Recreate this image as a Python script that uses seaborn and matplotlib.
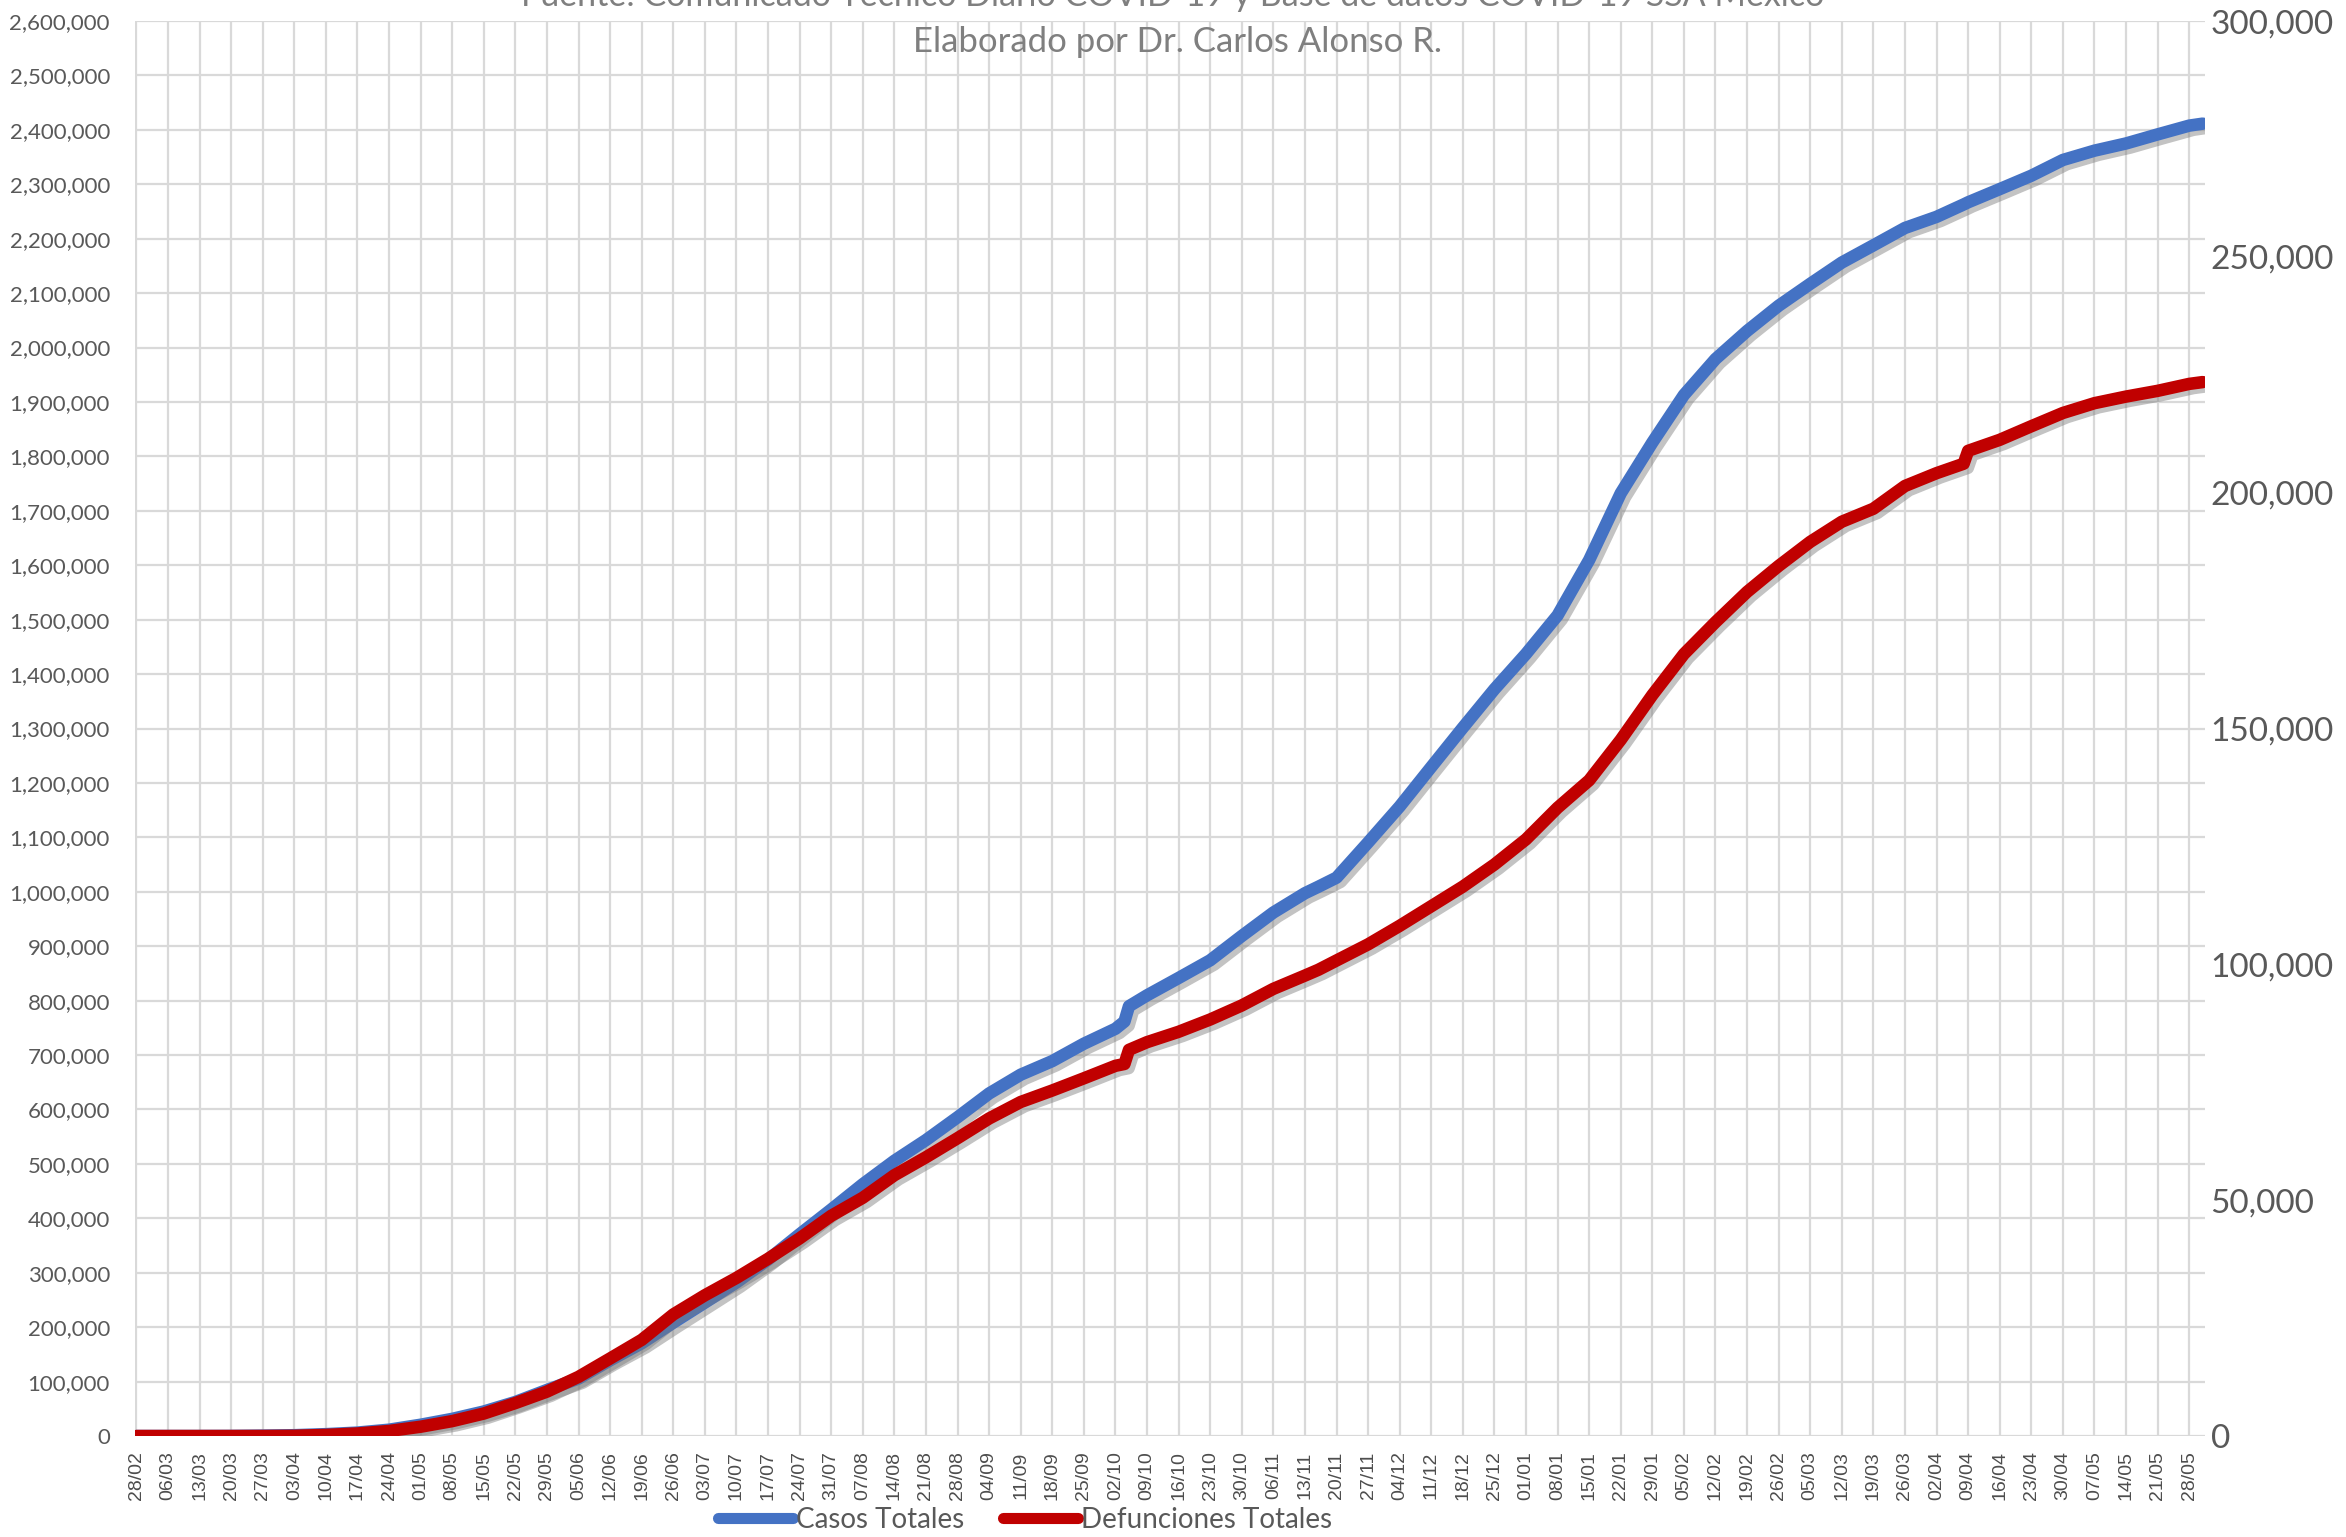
import matplotlib
matplotlib.use('Agg')
import matplotlib.pyplot as plt
import matplotlib.patheffects as pe
from matplotlib.lines import Line2D
from matplotlib.ticker import FuncFormatter, MultipleLocator
import seaborn as sns
import pandas as pd

## datos (acumulados Mexico)
fechas = ['28/02/20', '06/03/20', '13/03/20', '20/03/20', '27/03/20', '03/04/20', '10/04/20',
          '17/04/20', '24/04/20', '01/05/20', '08/05/20', '15/05/20', '22/05/20', '29/05/20',
          '05/06/20', '12/06/20', '19/06/20', '26/06/20', '03/07/20', '10/07/20', '17/07/20',
          '24/07/20', '31/07/20', '07/08/20', '14/08/20', '21/08/20', '28/08/20', '04/09/20',
          '11/09/20', '18/09/20', '25/09/20', '02/10/20', '04/10/20', '05/10/20', '09/10/20',
          '16/10/20', '23/10/20', '30/10/20', '06/11/20', '13/11/20', '16/11/20', '20/11/20',
          '27/11/20', '04/12/20', '11/12/20', '18/12/20', '25/12/20', '01/01/21', '08/01/21',
          '15/01/21', '22/01/21', '29/01/21', '05/02/21', '12/02/21', '19/02/21', '26/02/21',
          '05/03/21', '12/03/21', '19/03/21', '26/03/21', '02/04/21', '08/04/21', '09/04/21',
          '16/04/21', '23/04/21', '30/04/21', '07/05/21', '14/05/21', '21/05/21', '28/05/21',
          '31/05/21']

casos = [1, 6, 26, 164, 717, 1510, 3441, 6297, 11633, 20739, 31522, 45032, 62527, 84627,
         105680, 139196, 170485, 208392, 245251, 282283, 324041, 370712, 416179, 462690,
         505751, 543806, 585738, 629409, 663973, 688954, 720858, 748315, 761665, 789780,
         809751, 841661, 874171, 918811, 961938, 997393, 1009396, 1025969, 1090675, 1156770,
         1229379, 1301546, 1372243, 1437185, 1507931, 1609735, 1732290, 1825519, 1912871,
         1978954, 2030491, 2076882, 2117150, 2156282, 2187910, 2219845, 2240258, 2263000,
         2267010, 2291246, 2315811, 2344755, 2361874, 2375115, 2391744, 2407866, 2411503]

defunciones = [0, 0, 0, 1, 12, 50, 233, 546, 1069, 1972, 3160, 4767, 6989, 9415,
               12545, 16448, 20394, 25779, 29843, 33526, 37574, 41908, 46688, 50517,
               55293, 59106, 63146, 67326, 70821, 73258, 75844, 78492, 78880, 81877,
               83507, 85704, 88312, 91289, 94808, 97624, 98861, 100823, 104242, 108173,
               112326, 116487, 121172, 126507, 133204, 139022, 147614, 157100, 165786,
               172557, 178965, 184474, 189578, 193851, 196606, 201429, 204147, 206146,
               208879, 211213, 214095, 216907, 218985, 220384, 221597, 223072, 223455]

series = ['Casos Totales', 'Defunciones Totales']
titulo = ['Fuente: Comunicado Técnico Diario COVID-19 y Base de datos COVID-19 SSA México',
          'Elaborado por Dr. Carlos Alonso R.']

df = pd.DataFrame({'fecha': pd.to_datetime(fechas, format='%d/%m/%y'),
                   'casos': casos, 'defunciones': defunciones})

sns.set_style('white')
plt.rcParams['font.family'] = ['Lato', 'DejaVu Sans']

AZUL = '#4472C4'
ROJO = '#C00000'
GRIS = '#595959'
REJILLA = '#d9d9d9'

fig = plt.figure(figsize=(23.46, 15.37), dpi=100)
ax = fig.add_axes([0.0575, 0.0657, 0.8824, 0.9206])
ax2 = ax.twinx()

sombra = [pe.SimpleLineShadow(offset=(3, -3), shadow_color='#7a7a7a', alpha=0.45), pe.Normal()]
sns.lineplot(data=df, x='fecha', y='casos', ax=ax, color=AZUL, lw=9,
             solid_capstyle='round', path_effects=sombra, legend=False)
sns.lineplot(data=df, x='fecha', y='defunciones', ax=ax2, color=ROJO, lw=9,
             solid_capstyle='round', path_effects=sombra, legend=False)

# eje x: una marca por semana
semanas = pd.date_range('2020-02-28', '2021-05-28', freq='7D')
ax.set_xlim(pd.Timestamp('2020-02-28') - pd.Timedelta(hours=8),
            pd.Timestamp('2021-05-31') + pd.Timedelta(hours=12))
ax.set_xticks(semanas)
ax.set_xticklabels([d.strftime('%d/%m') for d in semanas], rotation=90,
                   fontsize=14, family=['Liberation Sans', 'DejaVu Sans'])
ax.tick_params(axis='x', length=5, width=1.5, color=REJILLA, labelcolor='#4d4d4d', pad=6)

# eje izquierdo (casos)
ax.set_ylim(0, 2600000)
ax.yaxis.set_major_locator(MultipleLocator(100000))
ax.yaxis.set_major_formatter(FuncFormatter(lambda v, p: f'{v:,.0f}'))
ax.tick_params(axis='y', length=0, labelsize=16, labelcolor=GRIS, pad=18)

# eje derecho (defunciones)
ax2.set_ylim(0, 300000)
ax2.yaxis.set_major_locator(MultipleLocator(50000))
ax2.yaxis.set_major_formatter(FuncFormatter(lambda v, p: f'{v:,.0f}'))
ax2.tick_params(axis='y', length=0, labelsize=24, labelcolor=GRIS, pad=4)

ax.grid(True, color=REJILLA, lw=1.6)
ax2.grid(False)
ax.set_axisbelow(True)
for a in (ax, ax2):
    a.set_xlabel('')
    a.set_ylabel('')
    for s in a.spines.values():
        s.set_visible(False)

fig.text(0.5, 0.996, titulo[0], ha='center', va='baseline', fontsize=24.5, color='#7f7f7f')
fig.text(0.502, 0.966, titulo[1], ha='center', va='baseline', fontsize=25, color='#7f7f7f')

manijas = [Line2D([0], [0], color=AZUL, lw=8, solid_capstyle='round'),
           Line2D([0], [0], color=ROJO, lw=8, solid_capstyle='round')]
fig.legend(manijas, series, loc='center', bbox_to_anchor=(0.437, 0.011), ncol=2,
           frameon=False, fontsize=20, handlelength=2.7, handletextpad=0.1,
           columnspacing=1.4, labelcolor=GRIS)

fig.savefig('out.png', dpi=100)
